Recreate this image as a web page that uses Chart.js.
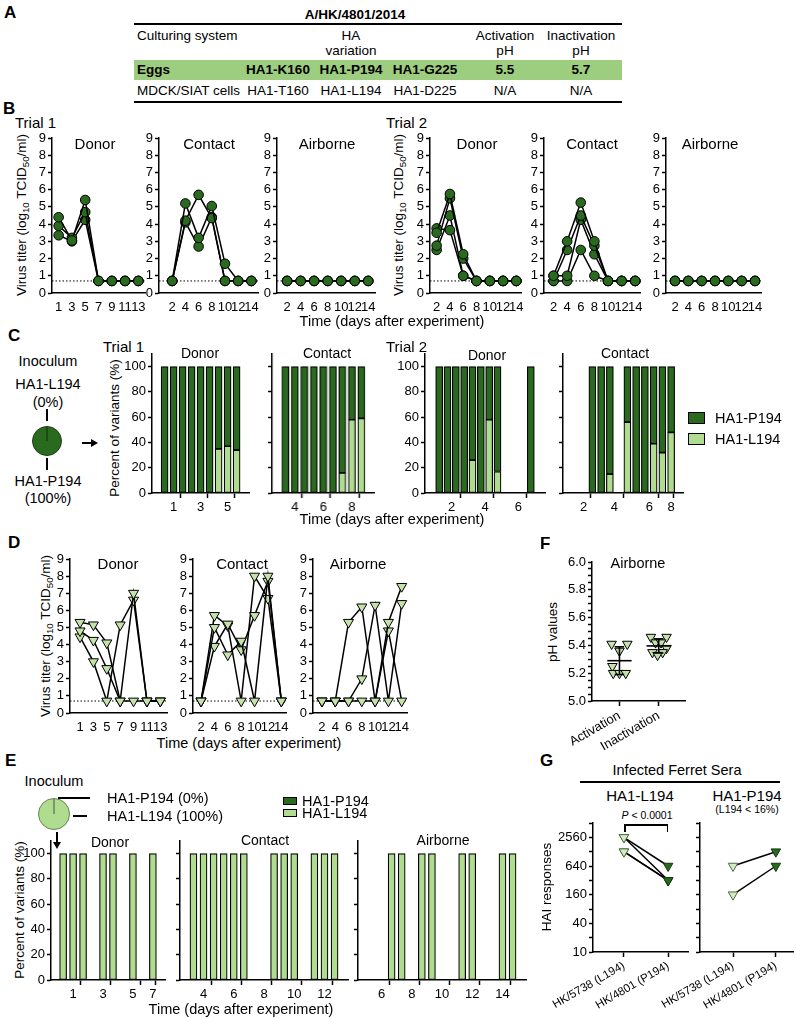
<!DOCTYPE html>
<html lang="en">
<head>
<meta charset="utf-8">
<title>A/HK/4801/2014 ferret transmission</title>
<script src="https://cdn.jsdelivr.net/npm/chart.js@4.4.1/dist/chart.umd.min.js"></script>
<style>
  html, body { margin: 0; background: #fff; }
  #fig { position: relative; width: 796px; height: 1018px; overflow: hidden;
         font-family: "Liberation Sans", Arial, sans-serif; color: #000; }
  .t { position: absolute; white-space: nowrap; line-height: 1; }
  .t sub { font-size: 72%; line-height: 0; vertical-align: -0.3em; }
  .k, .cv { position: absolute; }
</style>
</head>
<body>
<div id="fig"></div>
<script>
// ---- B: titers of egg-grown (P194) virus, log10 TCID50/ml, one row per ferret ----
const LOD = 0.7; // detection limit, dotted line
const t1DonorDays = [1, 3, 5, 7, 9, 11, 13];
const t1Donor = [
  [4.4, 3.05, 5.4, 0.7, 0.7, 0.7, 0.7],
  [3.9, 3.2, 4.7, 0.7, 0.7, 0.7, 0.7],
  [3.35, 3.0, 4.25, 0.7, 0.7, 0.7, 0.7]
];
const t1ContactDays = [2, 4, 6, 8, 10, 12, 14];
const t1Contact = [
  [0.7, 5.2, 3.2, 5.05, 1.7, 0.7, 0.7],
  [0.7, 4.2, 5.7, 4.35, 0.7, 0.7, 0.7],
  [0.7, 4.1, 2.7, 4.4, 0.7, 0.7, 0.7]
];
const t1Airborne = [
  [0.7, 0.7, 0.7, 0.7, 0.7, 0.7, 0.7],
  [0.7, 0.7, 0.7, 0.7, 0.7, 0.7, 0.7],
  [0.7, 0.7, 0.7, 0.7, 0.7, 0.7, 0.7]
];
const t2Days = [2, 4, 6, 8, 10, 12, 14];
const t2Donor = [
  [3.5, 5.75, 2.25, 0.7, 0.7, 0.7, 0.7],
  [3.75, 3.65, 1.0, 0.7, 0.7, 0.7, 0.7],
  [2.75, 5.5, 2.0, 0.7, 0.7, 0.7, 0.7],
  [2.5, 4.5, 1.0, 0.7, 0.7, 0.7, 0.7]
];
const t2Contact = [
  [1.0, 3.0, 5.25, 3.0, 0.7, 0.7, 0.7],
  [0.7, 2.5, 4.5, 2.75, 0.7, 0.7, 0.7],
  [1.0, 1.0, 4.25, 2.25, 0.7, 0.7, 0.7],
  [0.7, 0.7, 2.5, 1.0, 0.7, 0.7, 0.7]
];
const t2Airborne = [
  [0.7, 0.7, 0.7, 0.7, 0.7, 0.7, 0.7],
  [0.7, 0.7, 0.7, 0.7, 0.7, 0.7, 0.7],
  [0.7, 0.7, 0.7, 0.7, 0.7, 0.7, 0.7]
];

// ---- C: % HA1-L194 per sample (null = no sample), groups = [day label, slots] ----
const c1DonorGroups = [['1', 3], ['3', 3], ['5', 3]];
const c1DonorL194 = [0, 0, 0, 0, 0, 0, 35, 37, 34];
const c1ContactGroups = [['4', 3], ['6', 3], ['8', 3]];
const c1ContactL194 = [0, 0, 0, 0, 0, 0, 16, 58, 59];
const c2DonorGroups = [['2', 4], ['4', 4], ['6', 4]];
const c2DonorL194 = [0, 0, 0, 0, 26, 0, 58, 17, null, null, null, 0];
const c2ContactGroups = [['2', 3], ['4', 4], ['6', 4], ['8', 1]];
const c2ContactL194 = [null, null, 0, 0, 15, null, 56, 0, 0, 39, 32, 48];
const cInoculum = [0, 100]; // HA1-L194, HA1-P194

// ---- D: titers of cell-grown (L194) virus ----
const dDonorDays = [1, 3, 5, 7, 9, 11, 13];
const dDonor = [
  [5.3, 5.15, 4.1, 0.7, 7.0, 0.7, 0.7],
  [4.8, 4.25, 2.6, 0.7, 0.7, 0.7, 0.7],
  [4.45, 3.0, 0.7, 5.15, 6.6, 0.7, 0.7]
];
const dContactDays = [2, 4, 6, 8, 10, 12, 14];
const dContact = [
  [0.7, 5.0, 3.4, 4.2, 0.7, 8.0, 0.7],
  [0.7, 3.9, 5.2, 3.7, 5.7, 7.7, 0.7],
  [0.7, 5.7, 5.1, 0.7, 8.0, 6.7, 0.7]
];
const dAirborneDays = [2, 4, 6, 8, 10, 12, 14];
const dAirborne = [
  [0.7, 0.7, 5.3, 6.2, 0.7, 5.3, 7.4],
  [0.7, 0.7, 0.7, 2.0, 6.3, 0.7, 6.4],
  [0.7, 0.7, 0.7, 0.7, 0.7, 4.8, 0.7]
];

// ---- E: % HA1-L194, L194 inoculum ----
const eDonorGroups = [['1', 3], ['3', 3], ['5', 3], ['7', 1]];
const eDonorL194 = [100, 100, 100, null, 100, 100, null, 100, null, 100];
const eContactGroups = [['4', 3], ['6', 3], ['8', 3], ['10', 3], ['12', 3]];
const eContactL194 = [100, 100, 100, 100, 100, 100, null, null, 100, 100, 100, null, 100, 100, 100];
const eAirborneGroups = [['6', 3], ['8', 3], ['10', 3], ['12', 3], ['14', 3]];
const eAirborneL194 = [null, null, 100, 100, null, 100, 100, null, null, 100, 100, null, null, 100, 100];
const eInoculum = [0, 100]; // HA1-P194, HA1-L194

// ---- F: pH of airborne isolates ----
const phNames = ['Activation', 'Inactivation'];
const activationPH = [5.41, 5.41, 5.36, 5.25, 5.2, 5.2, 5.2];
const inactivationPH = [5.46, 5.46, 5.42, 5.42, 5.38, 5.35, 5.35, 5.33];
const activationJitter = [-0.2, 0.2, 0, -0.18, -0.16, 0.0, 0.16];
const inactivationJitter = [-0.2, 0.2, -0.08, 0.06, 0.2, -0.16, 0.1, -0.03];

// ---- G: HAI titers of infected ferret sera ----
const seraNames = ['HK/5738 (L194)', 'HK/4801 (P194)'];
const gL194vs5738 = [2560, 2560, 1280, 1280];
const gL194vs4801 = [640, 320, 320, 320];
const gP194vs5738 = [640, 160];
const gP194vs4801 = [1280, 640];

// ---- tick labels ----
const titerTicks = [0, 1, 2, 3, 4, 5, 6, 7, 8, 9];
const oddDays = [1, 3, 5, 7, 9, 11, 13];
const evenDays = [2, 4, 6, 8, 10, 12, 14];
const pctTicks = [0, 20, 40, 60, 80, 100];
const phMajor = [5.0, 5.2, 5.4, 5.6, 5.8, 6.0];
const haiTicks = [10, 20, 40, 80, 160, 320, 640, 1280, 2560, 5120];
const haiLabels = [10, 40, 160, 640, 2560];

// ---------------------------------------------------------------
const FONT = '"Liberation Sans", Arial, sans-serif';
const DARK = '#2a6a1f', LIGHT = '#b0dc8f', TRI = '#c3e3aa', G_LIGHT = '#d3eac3';
Chart.defaults.font.family = FONT;
Chart.defaults.color = '#000';
const fig = document.getElementById('fig');
const PT = 10, PR = 10;

function txt(html, x, y, size, o = {}) {
  const d = document.createElement('div');
  d.className = 't';
  d.innerHTML = html;
  d.style.left = x + 'px';
  d.style.top = y + 'px';
  d.style.fontSize = size + 'px';
  if (o.bold) d.style.fontWeight = 'bold';
  const ax = o.left ? '0' : '-50%';
  d.style.transform = 'translate(' + ax + ',-50%)' + (o.rot ? ' rotate(' + o.rot + 'deg)' : '');
  fig.appendChild(d);
  return d;
}
function block(x, y, w, h, bg, extra) {
  const d = document.createElement('div');
  d.className = 'k';
  d.style.cssText = 'left:' + x + 'px;top:' + y + 'px;width:' + w + 'px;height:' + h + 'px;background:' + bg + ';' + (extra || '');
  fig.appendChild(d);
  return d;
}
function arrowRight(x1, x2, y) {
  block(x1, y - 1, x2 - x1 - 6, 2, '#000');
  block(x2 - 7, y - 4, 0, 0, 'transparent', 'border-left:7px solid #000;border-top:4px solid transparent;border-bottom:4px solid transparent;');
}
function arrowDown(x, y1, y2) {
  block(x - 1, y1, 2, y2 - y1 - 6, '#000');
  block(x - 4, y2 - 7, 0, 0, 'transparent', 'border-top:7px solid #000;border-left:4px solid transparent;border-right:4px solid transparent;');
}
function canvasAt(left, top, w, h, yw, xh) {
  const d = document.createElement('div');
  d.className = 'cv';
  d.style.left = (left - yw) + 'px';
  d.style.top = (top - PT) + 'px';
  d.style.width = (yw + w + PR) + 'px';
  d.style.height = (PT + h + xh) + 'px';
  const c = document.createElement('canvas');
  d.appendChild(c);
  fig.appendChild(d);
  return c;
}
function baseOpts(scales) {
  return {
    responsive: true, maintainAspectRatio: false, animation: false, events: [],
    layout: { padding: { top: PT, right: PR, left: 0, bottom: 0 } },
    plugins: { legend: { display: false }, tooltip: { enabled: false } },
    scales
  };
}
function xAxis(min, max, ticks, label, h, o = {}) {
  return {
    type: 'linear', min, max,
    afterBuildTicks: s => { s.ticks = ticks.map(v => ({ value: v })); },
    afterFit: s => { s.height = h; s.paddingLeft = 0; s.paddingRight = 0; },
    grid: { display: !!o.marks, drawOnChartArea: false, tickLength: 5, tickWidth: 1.5, tickColor: o.marks || '#000' },
    border: { display: true, color: '#000', width: 1.5 },
    ticks: { color: '#000', font: { size: o.size || 13 }, padding: 2, autoSkip: false,
             maxRotation: o.rot || 0, minRotation: o.rot || 0, callback: label }
  };
}
function yAxis(min, max, ticks, label, w, o = {}) {
  return {
    type: o.type || 'linear', min, max, stacked: !!o.stacked,
    afterBuildTicks: s => { s.ticks = ticks.map(v => ({ value: v })); },
    afterFit: s => { s.width = w; s.paddingTop = 0; s.paddingBottom = 0; },
    grid: { drawOnChartArea: false, tickLength: 4, tickWidth: 1.5, tickColor: '#000' },
    border: { color: '#000', width: 1.5 },
    ticks: { display: o.labels !== false, color: '#000', font: { size: 13 }, padding: 2, autoSkip: false, callback: label }
  };
}

// line plots of titers (B and D)
function titerPanel(p, top, h, days, ferrets, mark) {
  const c = canvasAt(p.left, top, p.w, h, 24, 20);
  const sets = ferrets.map(f => ({
    data: days.map((d, i) => ({ x: d, y: f[i] })),
    borderColor: '#000', borderWidth: 1.5,
    pointStyle: mark.style, pointRotation: mark.rot, pointRadius: mark.r,
    pointBackgroundColor: mark.fill, pointBorderColor: '#000', pointBorderWidth: 1,
    clip: false
  }));
  sets.push({ data: [{ x: p.min, y: LOD }, { x: p.max, y: LOD }], borderColor: '#000',
              borderWidth: 1, borderDash: [1.5, 2], pointRadius: 0 });
  new Chart(c, { type: 'line', data: { datasets: sets }, options: baseOpts({
    x: xAxis(p.min, p.max, p.ticks, v => String(v), 20),
    y: yAxis(0, 9, titerTicks, v => String(v), 24)
  }) });
}

// stacked variant bars (C and E)
function variantPanel(p, top, h, groups, l194, showY, bw) {
  const n = groups.reduce((s, g) => s + g[1], 0);
  const yw = showY ? 30 : 6;
  const c = canvasAt(p.left, top, n * p.slot, h, yw, 22);
  const ticks = [], names = new Map(), edges = new Set();
  let at = 0;
  groups.forEach(([lab, k]) => {
    ticks.push(at + k / 2); names.set(at + k / 2, lab);
    at += k; ticks.push(at); edges.add(at);
  });
  const bar = (vals, color) => ({
    data: vals.map((v, i) => ({ x: i + 0.5, y: v })), backgroundColor: color,
    borderColor: '#000', borderWidth: 1.2, borderSkipped: false, stack: 's', barThickness: bw
  });
  new Chart(c, { type: 'bar', data: { datasets: [
    bar(l194, LIGHT),
    bar(l194.map(v => v == null ? null : 100 - v), DARK)
  ] }, options: baseOpts({
    x: xAxis(0, n, ticks, v => names.get(v) || '', 22,
      { marks: ctx => (ctx.tick && edges.has(ctx.tick.value)) ? '#000' : 'rgba(0,0,0,0)' }),
    y: yAxis(0, 110, pctTicks, v => String(v), yw, { labels: showY, stacked: true })
  }) });
}

function inoculumPie(cx, cy, r, values, colors, edge) {
  const s = 2 * r + 4;
  const d = document.createElement('div');
  d.className = 'cv';
  d.style.cssText = 'left:' + (cx - s / 2) + 'px;top:' + (cy - s / 2) + 'px;width:' + s + 'px;height:' + s + 'px';
  const c = document.createElement('canvas');
  d.appendChild(c); fig.appendChild(d);
  new Chart(c, { type: 'pie', data: { datasets: [{ data: values, backgroundColor: colors, borderColor: edge, borderWidth: 1 }] },
    options: { responsive: true, maintainAspectRatio: false, animation: false, events: [],
      layout: { padding: 2 }, plugins: { legend: { display: false }, tooltip: { enabled: false } } } });
}

const mean = a => a.reduce((s, v) => s + v, 0) / a.length;
const sd = a => { const m = mean(a); return Math.sqrt(a.reduce((s, v) => s + (v - m) * (v - m), 0) / (a.length - 1)); };

function phPanel() {
  const c = canvasAt(592, 562, 93, 139, 36, 60);
  const groups = [activationPH, inactivationPH];
  const jitter = [activationJitter, inactivationJitter];
  const sets = [];
  groups.forEach((vals, g) => {
    const x = g + 1, m = mean(vals), s = sd(vals);
    [[[x - 0.31, m], [x + 0.31, m]], [[x, m - s], [x, m + s]],
     [[x - 0.12, m + s], [x + 0.12, m + s]], [[x - 0.12, m - s], [x + 0.12, m - s]]]
      .forEach(seg => sets.push({ data: seg.map(([a, b]) => ({ x: a, y: b })), showLine: true,
        borderColor: '#000', borderWidth: 1.6, pointRadius: 0 }));
  });
  groups.forEach((vals, g) => sets.push({
    data: vals.map((v, i) => ({ x: g + 1 + jitter[g][i], y: v })),
    pointStyle: 'triangle', pointRotation: 180, pointRadius: 5.5,
    pointBackgroundColor: TRI, pointBorderColor: '#000', pointBorderWidth: 1, clip: false
  }));
  const phTicks = [];
  for (let k = 0; k <= 20; k++) phTicks.push(5 + k * 0.05);
  new Chart(c, { type: 'scatter', data: { datasets: sets }, options: baseOpts({
    x: xAxis(0.3, 2.67, [1, 2], v => phNames[v - 1], 60, { marks: '#000', rot: 30, size: 13 }),
    y: yAxis(5.0, 6.0, phTicks, v => phMajor.some(m => Math.abs(m - v) < 1e-6) ? v.toFixed(1) : '', 36)
  }) });
}

function seraPanel(p, a, b, showY) {
  const yw = showY ? 75 : 110;
  const c = canvasAt(p.left, 823, p.w, 129, yw, 75);
  const sets = a.map((v, i) => ({
    data: [{ x: 1, y: v }, { x: 2, y: b[i] }], showLine: true, borderColor: '#000', borderWidth: 1.5,
    pointStyle: 'triangle', pointRotation: 180, pointRadius: 5.5,
    pointBackgroundColor: [G_LIGHT, DARK], pointBorderColor: ['#4a6e3e', '#133812'], pointBorderWidth: 1, clip: false
  }));
  new Chart(c, { type: 'scatter', data: { datasets: sets }, options: baseOpts({
    x: xAxis(p.min, p.max, [1, 2], v => seraNames[v - 1], 75, { marks: '#000', rot: 30, size: 11.5 }),
    y: yAxis(10, 5120, haiTicks, v => haiLabels.includes(v) ? String(v) : '', yw, { type: 'logarithmic', labels: showY })
  }) });
}

// ================= A: table =================
txt('A', 4, 12, 17, { bold: true, left: true });
txt('A/HK/4801/2014', 355, 15, 13.5, { bold: true });
block(134, 23, 488, 1.5, '#000');
txt('Culturing system', 137, 36, 13.5, { left: true });
txt('HA', 351, 36, 13.5); txt('variation', 351, 51, 13.5);
txt('Activation', 505, 36, 13.5); txt('pH', 505, 51, 13.5);
txt('Inactivation', 581, 36, 13.5); txt('pH', 581, 51, 13.5);
block(134, 60, 488, 20, '#9dcd7e');
txt('Eggs', 137, 70, 13.5, { bold: true, left: true });
txt('HA1-K160', 278, 70, 13.5, { bold: true }); txt('HA1-P194', 351, 70, 13.5, { bold: true });
txt('HA1-G225', 425, 70, 13.5, { bold: true }); txt('5.5', 505, 70, 13.5, { bold: true }); txt('5.7', 581, 70, 13.5, { bold: true });
txt('MDCK/SIAT cells', 137, 91, 13.5, { left: true });
txt('HA1-T160', 278, 91, 13.5); txt('HA1-L194', 351, 91, 13.5); txt('HA1-D225', 425, 91, 13.5);
txt('N/A', 505, 91, 13.5); txt('N/A', 581, 91, 13.5);
block(134, 101, 488, 1.5, '#000');

// ================= B =================
const circle = { style: 'circle', rot: 0, r: 4.8, fill: DARK };
const B_TOP = 138, B_H = 155;
txt('B', 3, 108, 17, { bold: true, left: true });
txt('Trial 1', 15, 122, 15, { left: true });
txt('Trial 2', 386, 122, 15, { left: true });
const yTiter = 'Virus titer (log<sub>10</sub> TCID<sub>50</sub>/ml)';
txt(yTiter, 22, 215, 13.5, { rot: -90 });
txt(yTiter, 399, 215, 13.5, { rot: -90 });
titerPanel({ left: 52, w: 93, min: 0, max: 14, ticks: oddDays }, B_TOP, B_H, t1DonorDays, t1Donor, circle);
titerPanel({ left: 159, w: 99, min: 0, max: 15, ticks: evenDays }, B_TOP, B_H, t1ContactDays, t1Contact, circle);
titerPanel({ left: 277, w: 98, min: 0.5, max: 15, ticks: evenDays }, B_TOP, B_H, t1ContactDays, t1Airborne, circle);
titerPanel({ left: 430, w: 91, min: 1, max: 14.7, ticks: evenDays }, B_TOP, B_H, t2Days, t2Donor, circle);
titerPanel({ left: 544, w: 96, min: 0.6, max: 14.7, ticks: evenDays }, B_TOP, B_H, t2Days, t2Contact, circle);
titerPanel({ left: 666, w: 95, min: 0.65, max: 14.9, ticks: evenDays }, B_TOP, B_H, t2Days, t2Airborne, circle);
[['Donor', 95], ['Contact', 209], ['Airborne', 327], ['Donor', 477], ['Contact', 592], ['Airborne', 710]]
  .forEach(([s, x]) => txt(s, x, 143, 15));
txt('Time (days after experiment)', 392, 321, 14.5);

// ================= C =================
const C_TOP = 354, C_H = 139;
txt('C', 8, 335, 17, { bold: true, left: true });
txt('Inoculum', 48, 361, 14.5);
txt('HA1-L194', 48, 384, 14.5); txt('(0%)', 48, 402, 14.5);
block(46, 409, 2, 12, '#000');
inoculumPie(47, 441, 15, cInoculum, [LIGHT, DARK], '#1d3d17');
block(46, 458, 2, 12, '#000');
txt('HA1-P194', 48, 481, 14.5); txt('(100%)', 48, 498, 14.5);
arrowRight(82, 98, 443);
txt('Trial 1', 103, 346, 15, { left: true });
txt('Trial 2', 386, 346, 15, { left: true });
txt('Percent of variants (%)', 115, 428, 13.5, { rot: -90 });
variantPanel({ left: 152, slot: 10.8 }, C_TOP, C_H, c1DonorGroups, c1DonorL194, true, 7);
variantPanel({ left: 272, slot: 11.3 }, C_TOP, C_H, c1ContactGroups, c1ContactL194, false, 7);
variantPanel({ left: 425, slot: 10 }, C_TOP, C_H, c2DonorGroups, c2DonorL194, true, 7);
variantPanel({ left: 563, slot: 10 }, C_TOP, C_H, c2ContactGroups, c2ContactL194, false, 7);
txt('Donor', 200, 353, 14); txt('Contact', 327, 353, 14);
txt('Donor', 487, 355, 14); txt('Contact', 625, 353, 14);
block(688, 412, 17, 12, DARK, 'border:1px solid #000;box-sizing:border-box;');
txt('HA1-P194', 715, 418, 14.5, { left: true });
block(688, 433, 17, 12, LIGHT, 'border:1px solid #000;box-sizing:border-box;');
txt('HA1-L194', 715, 439, 14.5, { left: true });
txt('Time (days after experiment)', 392, 519, 14.5);

// ================= D =================
const tri = { style: 'triangle', rot: 180, r: 5.8, fill: TRI };
const D_TOP = 559, D_H = 154;
txt('D', 8, 542, 17, { bold: true, left: true });
txt(yTiter, 46, 636, 13.5, { rot: -90 });
titerPanel({ left: 70, w: 97, min: -0.5, max: 14, ticks: oddDays }, D_TOP, D_H, dDonorDays, dDonor, tri);
titerPanel({ left: 193, w: 93, min: 0.8, max: 14.7, ticks: evenDays }, D_TOP, D_H, dContactDays, dContact, tri);
titerPanel({ left: 313, w: 94, min: 0.65, max: 14.8, ticks: evenDays }, D_TOP, D_H, dAirborneDays, dAirborne, tri);
txt('Donor', 118, 563, 15); txt('Contact', 242, 563, 15); txt('Airborne', 358, 563, 15);
txt('Time (days after experiment)', 249, 743, 14.5);

// ================= F =================
txt('F', 540, 543, 17, { bold: true, left: true });
txt('pH values', 553, 632, 13.5, { rot: -90 });
phPanel();
txt('Airborne', 638, 563, 14.5);

// ================= E =================
const E_TOP = 841, E_H = 139;
txt('E', 5, 760, 17, { bold: true, left: true });
txt('Inoculum', 54, 781, 14.5);
inoculumPie(54, 814, 16, eInoculum, [DARK, LIGHT], '#66845a');
block(58, 797, 32, 1.5, '#000');
txt('HA1-P194 (0%)', 107, 798, 14.5, { left: true });
block(73, 815, 14, 1.5, '#000');
txt('HA1-L194 (100%)', 107, 816, 14.5, { left: true });
arrowDown(57, 832, 849);
block(283, 797, 14, 8, DARK, 'border:1px solid #000;box-sizing:border-box;');
txt('HA1-P194', 302, 801, 14.5, { left: true });
block(283, 809, 14, 8, LIGHT, 'border:1px solid #000;box-sizing:border-box;');
txt('HA1-L194', 302, 813, 14.5, { left: true });
txt('Percent of variants (%)', 20, 910, 13.5, { rot: -90 });
variantPanel({ left: 51, slot: 11.4 }, E_TOP, E_H, eDonorGroups, eDonorL194, true, 7);
variantPanel({ left: 180, slot: 11.2 }, E_TOP, E_H, eContactGroups, eContactL194, false, 7);
variantPanel({ left: 358, slot: 11.2 }, E_TOP, E_H, eAirborneGroups, eAirborneL194, false, 7);
txt('Donor', 110, 842, 14); txt('Contact', 265, 840, 14); txt('Airborne', 443, 840, 14);
txt('Time (days after experiment)', 241, 1009, 14.5);

// ================= G =================
txt('G', 540, 760, 17, { bold: true, left: true });
txt('Infected Ferret Sera', 677, 770, 14.5);
block(580, 781, 200, 2, '#000');
txt('HA1-L194', 640, 795, 15);
txt('HA1-P194', 747, 795, 15);
txt('(L194 &lt; 16%)', 747, 809, 10.5);
txt('<i>P</i> &lt; 0.0001', 647, 815, 10.5);
block(624, 824, 44, 1.5, '#000');
block(624, 824, 1.5, 8, '#000');
block(666.5, 824, 1.5, 8, '#000');
txt('HAI responses', 547, 887, 13.5, { rot: -90 });
seraPanel({ left: 593, w: 95, min: 0.3, max: 2.45 }, gL194vs5738, gL194vs4801, true);
seraPanel({ left: 700, w: 93, min: 0.23, max: 2.4 }, gP194vs5738, gP194vs4801, false);
</script>
</body>
</html>
